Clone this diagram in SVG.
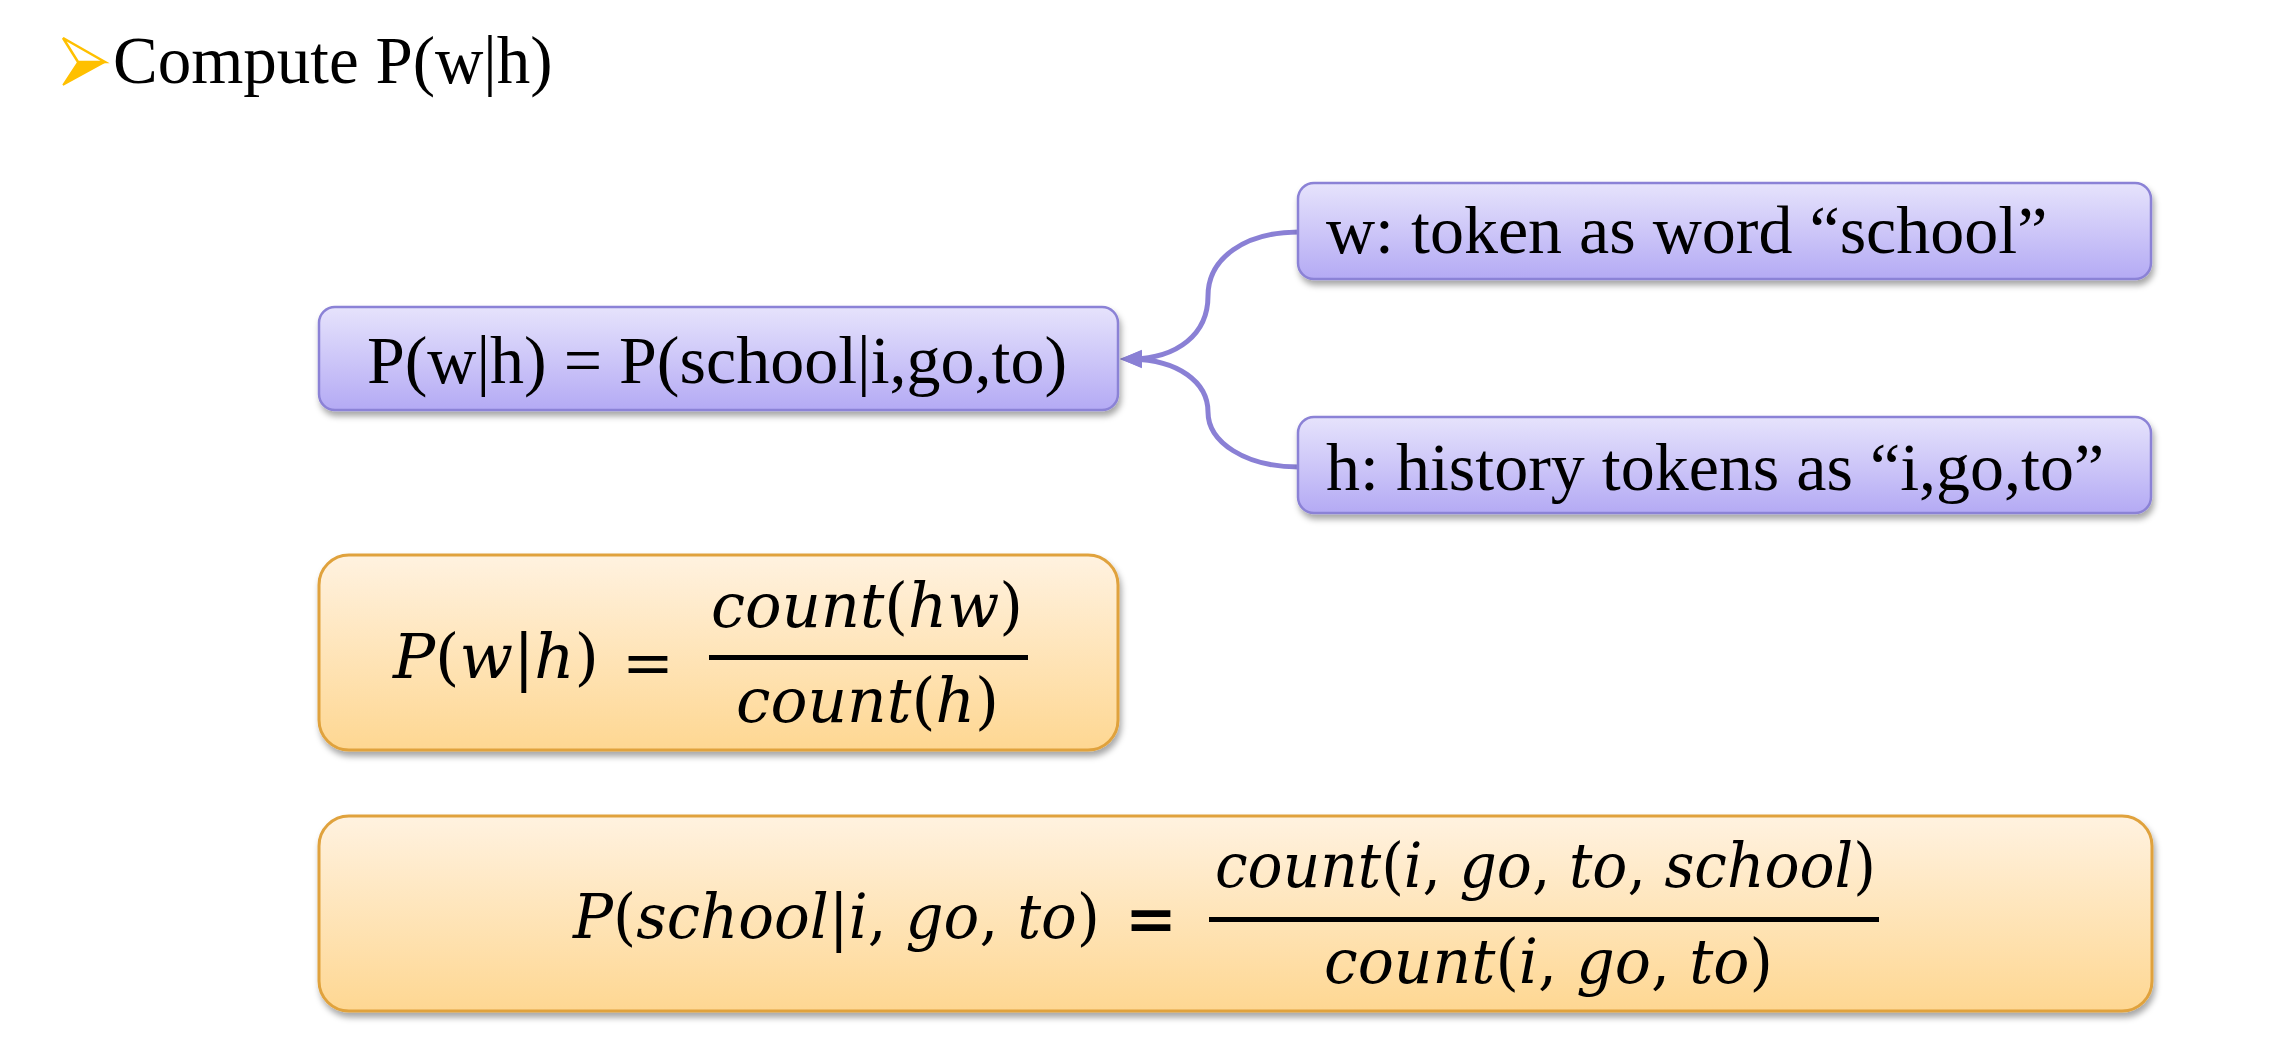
<svg xmlns="http://www.w3.org/2000/svg" width="2280" height="1060" viewBox="0 0 2280 1060">
<style>
.t{font-family:"Liberation Serif","Times New Roman",serif;font-size:68px;fill:#000}
.m{font-family:"DejaVu Serif","Liberation Serif",serif;font-size:62px;font-style:italic;fill:#000}
.u{font-style:normal}
.pbox{fill:url(#gp);stroke:#8B82D6;stroke-width:2.5;filter:url(#sh)}
.obox{fill:url(#go);stroke:#E0A23C;stroke-width:3;filter:url(#sh)}
.con{fill:none;stroke:#8A80D5;stroke-width:5;marker-end:url(#ah)}
.bar{fill:#000}
</style>
<defs>
<linearGradient id="gp" x1="0" y1="0" x2="0" y2="1">
<stop offset="0" stop-color="#E6E3FC"/>
<stop offset="1" stop-color="#B4AAF4"/>
</linearGradient>
<linearGradient id="go" x1="0" y1="0" x2="0" y2="1">
<stop offset="0" stop-color="#FFF2E0"/>
<stop offset="1" stop-color="#FED792"/>
</linearGradient>
<filter id="sh" x="-5%" y="-10%" width="110%" height="130%">
<feDropShadow dx="2" dy="5" stdDeviation="3" flood-color="#000" flood-opacity="0.35"/>
</filter>
<marker id="ah" markerUnits="userSpaceOnUse" markerWidth="22" markerHeight="20" viewBox="0 0 22 20" refX="10" refY="10" orient="auto">
<path d="M0,1 L22,10 L0,19 z" fill="#8A80D5"/>
</marker>
</defs>
<rect width="2280" height="1060" fill="#fff"/>
<g id="title">
<polygon points="63,38 105,62 78,62" fill="#fff" stroke="#FFC000" stroke-width="2.5" stroke-linejoin="miter"/>
<polygon points="78,62 105,62 63,85" fill="#FFC000" stroke="#FFC000" stroke-width="1.5"/>
<text class="t" x="113" y="83" style="font-size:67px">Compute P(w|h)</text>
</g>
<g id="connectors">
<path class="con" d="M1299,232 C1245,232 1208,258 1208,296 C1208,334 1178,358 1132,359"/>
<path class="con" d="M1299,467 C1245,467 1208,442 1208,412 C1208,382 1178,360 1132,359"/>
</g>
<g id="node-pwh">
<rect class="pbox" x="319" y="307" width="799" height="103" rx="16"/>
<text class="t" x="717" y="383" text-anchor="middle">P(w|h) = P(school|i,go,to)</text>
</g>
<g id="node-w">
<rect class="pbox" x="1298" y="183" width="853" height="96" rx="16"/>
<text class="t" x="1326" y="253">w: token as word “school”</text>
</g>
<g id="node-h">
<rect class="pbox" x="1298" y="417" width="853" height="96" rx="16"/>
<text class="t" x="1326" y="490">h: history tokens as “i,go,to”</text>
</g>
<g id="node-formula">
<rect class="obox" x="319" y="555" width="799" height="195" rx="30"/>
<text class="m" x="393" y="678" textLength="206" lengthAdjust="spacingAndGlyphs">P<tspan class="u">(</tspan>w<tspan class="u">|</tspan>h<tspan class="u">)</tspan></text>
<text class="m u" x="648" y="684" text-anchor="middle">=</text>
<text class="m" x="711" y="627" textLength="312" lengthAdjust="spacingAndGlyphs">count<tspan class="u">(</tspan>hw<tspan class="u">)</tspan></text>
<rect class="bar" x="709" y="655" width="319" height="5"/>
<text class="m" x="736" y="722" textLength="263" lengthAdjust="spacingAndGlyphs">count<tspan class="u">(</tspan>h<tspan class="u">)</tspan></text>
</g>
<g id="node-example">
<rect class="obox" x="319" y="816" width="1833" height="195" rx="30"/>
<text class="m" x="573" y="938" textLength="527" lengthAdjust="spacingAndGlyphs">P<tspan class="u">(</tspan>school<tspan class="u">|</tspan>i<tspan class="u">, </tspan>go<tspan class="u">, </tspan>to<tspan class="u">)</tspan></text>
<text class="m u" x="1151" y="940" text-anchor="middle" style="font-weight:bold">=</text>
<text class="m" x="1215" y="887" textLength="661" lengthAdjust="spacingAndGlyphs">count<tspan class="u">(</tspan>i<tspan class="u">, </tspan>go<tspan class="u">, </tspan>to<tspan class="u">, </tspan>school<tspan class="u">)</tspan></text>
<rect class="bar" x="1209" y="917" width="670" height="5"/>
<text class="m" x="1324" y="983" textLength="449" lengthAdjust="spacingAndGlyphs">count<tspan class="u">(</tspan>i<tspan class="u">, </tspan>go<tspan class="u">, </tspan>to<tspan class="u">)</tspan></text>
</g>
</svg>
